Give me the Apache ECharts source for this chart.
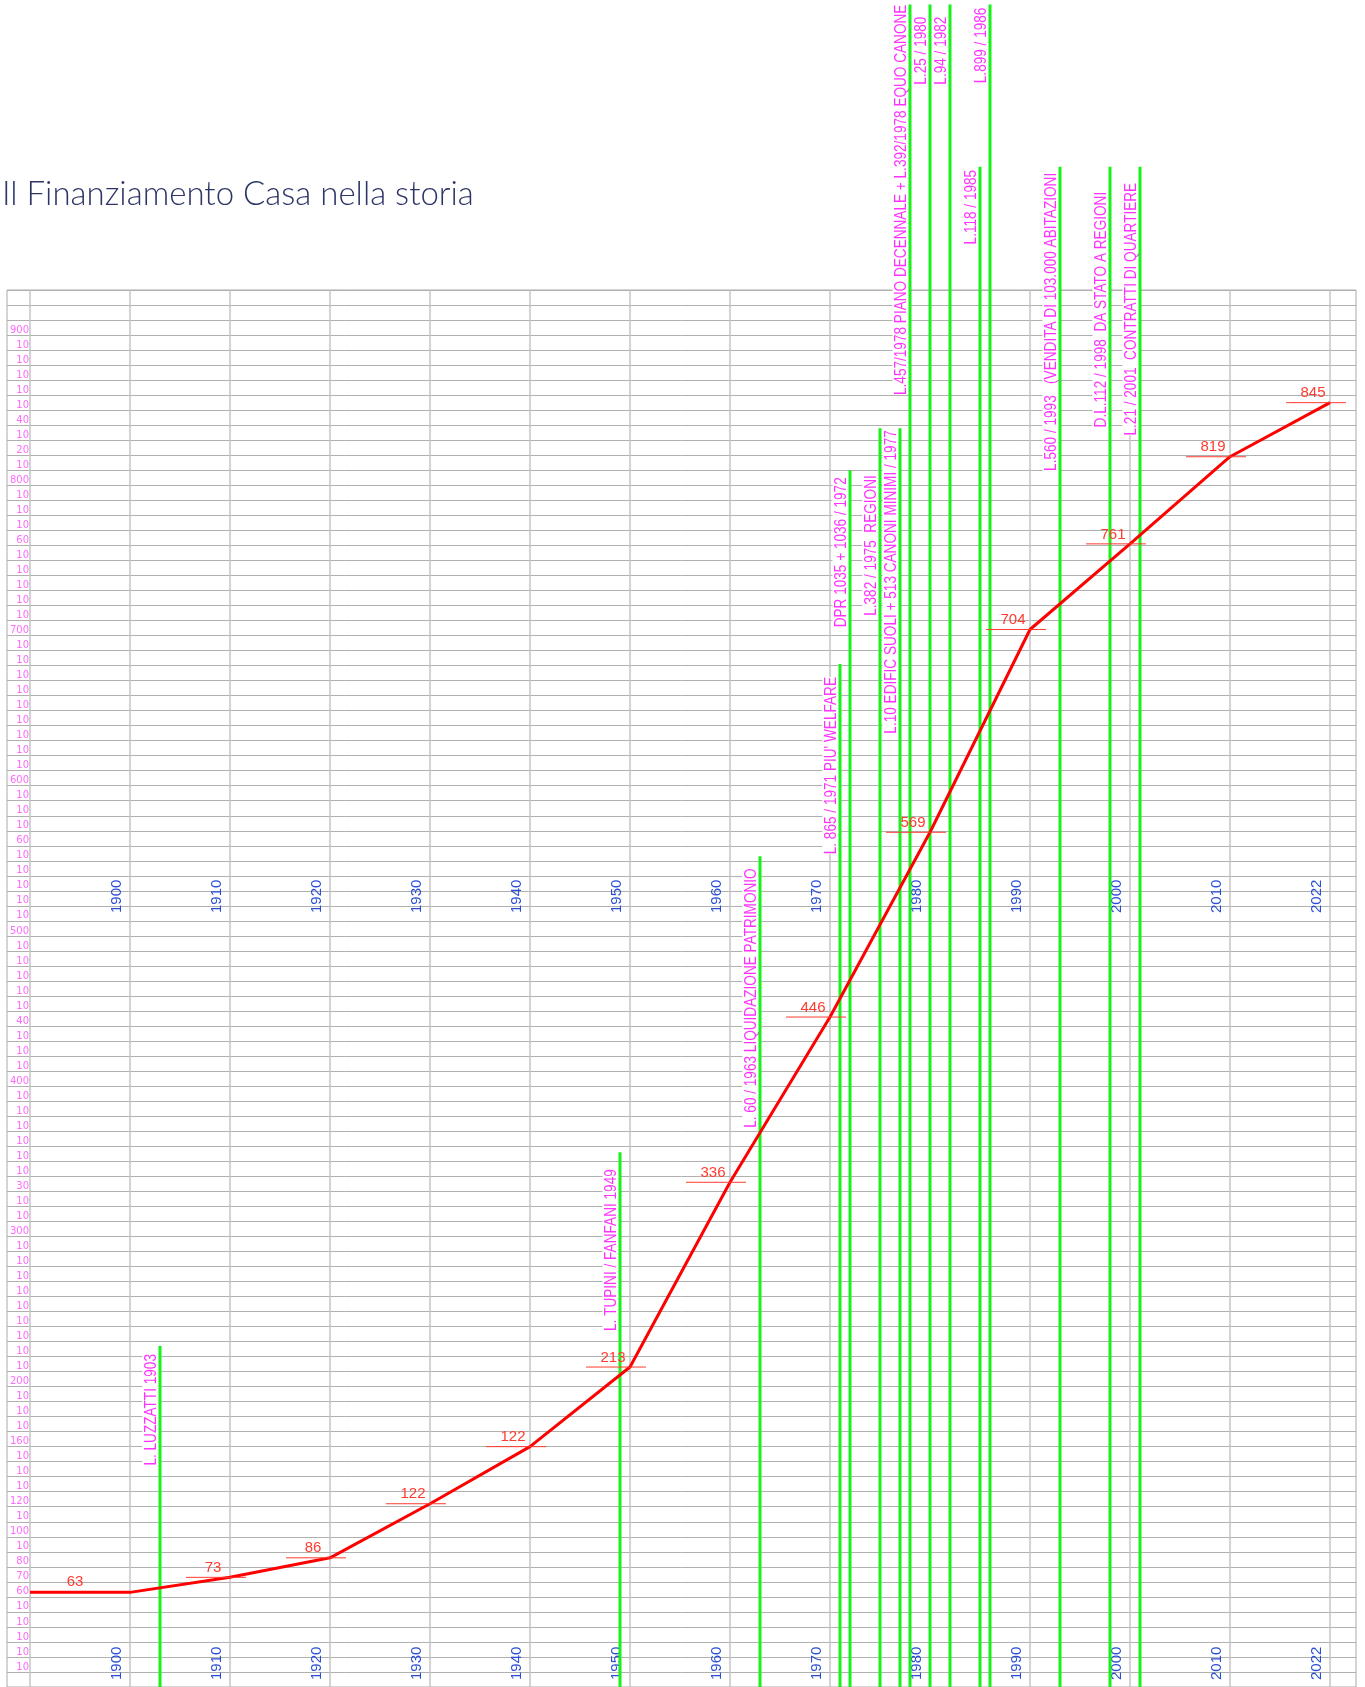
<!DOCTYPE html>
<html><head><meta charset="utf-8">
<script src="https://cdn.jsdelivr.net/npm/echarts@6/dist/echarts.min.js"></script>
<style>html,body{margin:0;padding:0;background:#fff}#c{width:1365px;height:1687px}</style>
</head><body><div id="c"></div>
<script>
// ---------- DATA ----------
const xLabels = ['', '1900','1910','1920','1930','1940','1950','1960','1970','1980','1990','2000','2010','2022'];
const values = [63, 63, 73, 86, 122, 160, 213, 336, 446, 569, 704, 761, 819, 855];
const pointLabels = ['63', '', '73', '86', '122', '122', '213', '336', '446', '569', '704', '761', '819', '845'];

const eventYears = [1903, 1949, 1963, 1971, 1972, 1975, 1977, 1978, 1980, 1982, 1985, 1986, 1993, 1998, 2001];
const eventTops  = [227, 356, 553, 681, 810, 838, 838, 1120, 1120, 1120, 1012, 1120, 1012, 1012, 1012];
const eventLabels = [
  'L. LUZZATTI 1903',
  'L. TUPINI / FANFANI 1949',
  'L. 60 / 1963 LIQUIDAZIONE PATRIMONIO',
  "L. 865 / 1971 PIU' WELFARE",
  'DPR 1035 + 1036 / 1972',
  'L.382 / 1975  REGIONI',
  'L.10 EDIFIC SUOLI + 513 CANONI MINIMI / 1977',
  'L.457/1978 PIANO DECENNALE + L.392/1978 EQUO CANONE',
  'L.25 / 1980',
  'L.94 / 1982',
  'L.118 / 1985',
  'L.899 / 1986',
  'L.560 / 1993   (VENDITA DI 103.000 ABITAZIONI',
  'D.L.112 / 1998  DA STATO A REGIONI',
  'L.21 / 2001  CONTRATTI DI QUARTIERE'
];

// y tick labels, from 930 down to 0 (step 10)
const yTickLabels = ['', '', '',
  '900','10','10','10','10','10','40','10','20','10',
  '800','10','10','10','60','10','10','10','10','10',
  '700','10','10','10','10','10','10','10','10','10',
  '600','10','10','10','60','10','10','10','10','10',
  '500','10','10','10','10','10','40','10','10','10',
  '400','10','10','10','10','10','10','30','10','10',
  '300','10','10','10','10','10','10','10','10','10',
  '200','10','10','10','160','10','10','10','120','10',
  '100','10','80','70','60','10','10','10','10','10',
  ''];

// ---------- LAYOUT / STYLE ----------
const labelGap = [8, 17, 12, 13, 7, 47, 2, 0, 12, 12, 3, 3, 6, 25, 16];
const yearRowsPx = [913, 1680];
const EV_FONT = '17px "Liberation Sans", Arial, sans-serif';
const EV_SCALE = 0.8;
const RED = '#ff3b2f';
const GREEN = '#19f219';

const chart = echarts.init(document.getElementById('c'), null, {renderer: 'canvas'});

const yMax = 930;
const option = {
  animation: false,
  backgroundColor: '#fff',
  title: {
    text: 'Il Finanziamento Casa nella storia',
    left: 2, top: 178, padding: 0,
    textStyle: {fontFamily: 'Lato', fontWeight: 300, fontSize: 33, color: '#2d3566'}
  },
  grid: [
    {left: 30, right: 35, top: 290, bottom: -1},
    {left: 7, right: 9, top: 290, bottom: -1, show: true, borderColor: '#aaaaaa', borderWidth: 1, backgroundColor: 'transparent'}
  ],
  xAxis: [
    {gridIndex: 0, type: 'value', min: 0, max: xLabels.length - 1, interval: 1,
     axisLine: {show: false}, axisTick: {show: false}, axisLabel: {show: false},
     splitLine: {show: true, lineStyle: {color: '#c4c4c4', width: 1.5}}},
    {gridIndex: 1, type: 'value', min: 0, max: 1, show: false}
  ],
  yAxis: [
    {gridIndex: 0, type: 'value', min: 0, max: yMax, interval: 10,
     axisLine: {show: false}, axisTick: {show: false}, splitLine: {show: false},
     axisLabel: {show: true, margin: 1, align: 'right', verticalAlign: 'bottom',
       color: '#ff6aff', fontSize: 10, fontFamily: 'DejaVu Sans',
       formatter: v => yTickLabels[Math.round((yMax - v) / 10)] || ''}},
    {gridIndex: 1, type: 'value', min: 0, max: yMax, interval: 10,
     axisLine: {show: false}, axisTick: {show: false}, axisLabel: {show: false},
     splitLine: {show: true, lineStyle: {color: '#b0b0b0', width: 1}}}
  ],
  series: [
    // year labels
    {
      type: 'custom', xAxisIndex: 0, yAxisIndex: 0, clip: false, z: 3, silent: true,
      data: xLabels.map((t, i) => [i, 0]),
      renderItem: (params, api) => {
        const i = params.dataIndex;
        const t = xLabels[i];
        if (!t) return {type: 'group', children: []};
        const p = api.coord([i, 0]);
        return {type: 'group', children: yearRowsPx.map(yy => ({
          type: 'text', x: p[0] - 13, y: yy, rotation: Math.PI / 2,
          style: {text: t, align: 'left', verticalAlign: 'middle', fill: '#2a4fd6',
            font: '15px "Liberation Sans", Arial, sans-serif'}
        }))};
      }
    },
    // events
    {
      type: 'custom', xAxisIndex: 0, yAxisIndex: 0, clip: false, z: 4, silent: true,
      data: eventYears.map((y, i) => [(y - 1890) / 10, eventTops[i]]),
      renderItem: (params, api) => {
        const i = params.dataIndex;
        const xv = (eventYears[i] - 1890) / 10;
        const top = api.coord([xv, eventTops[i]]);
        const bot = api.coord([xv, 0]);
        return {type: 'group', children: [
          {type: 'text', x: top[0] - 9, y: top[1] + labelGap[i], rotation: Math.PI / 2,
           scaleX: EV_SCALE, z2: 1,
           style: {text: eventLabels[i], align: 'right', verticalAlign: 'middle', fill: '#ff33ff',
             font: EV_FONT, backgroundColor: '#ffffff', padding: [0, 0]}},
          {type: 'line', z2: 2, shape: {x1: top[0], y1: top[1], x2: bot[0], y2: bot[1] + 5},
           style: {stroke: GREEN, lineWidth: 3}}
        ]};
      }
    },
    // main line
    {
      type: 'line', xAxisIndex: 0, yAxisIndex: 0, z: 6, silent: true,
      data: values.map((v, i) => [i, v]),
      symbol: 'none', lineStyle: {color: '#ff0000', width: 3}
    },
    // point labels
    {
      type: 'custom', xAxisIndex: 0, yAxisIndex: 0, clip: false, z: 7, silent: true,
      data: values.map((v, i) => [i, v]),
      renderItem: (params, api) => {
        const i = params.dataIndex;
        const txt = pointLabels[i];
        if (!txt) return {type: 'group', children: []};
        const p = api.coord([i, values[i]]);
        const font = '15px "Liberation Sans", Arial, sans-serif';
        if (i === 0) {
          return {type: 'text', x: p[0] + 45, y: p[1] - 3,
            style: {text: txt, align: 'center', verticalAlign: 'bottom', fill: RED, font}};
        }
        return {type: 'group', children: [
          {type: 'line', shape: {x1: p[0] - 44, y1: p[1], x2: p[0] + 16, y2: p[1]},
           style: {stroke: RED, lineWidth: 1}},
          {type: 'text', x: p[0] - 17, y: p[1] - 2,
           style: {text: txt, align: 'center', verticalAlign: 'bottom', fill: RED, font}}
        ]};
      }
    }
  ]
};
chart.setOption(option);
</script>
</body></html>
